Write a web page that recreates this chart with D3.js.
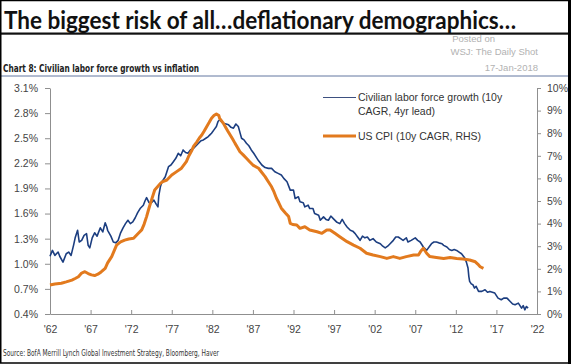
<!DOCTYPE html>
<html>
<head>
<meta charset="utf-8">
<script src="https://cdn.jsdelivr.net/npm/d3@7"></script>
<style>
  body { margin: 0; background: #fff; }
  svg { display: block; }
</style>
</head>
<body>
<svg id="chart"></svg>
<script>
// labour force growth, 10y CAGR with 4yr lead (left axis, %)
const laborYears = [1962.0,1962.3,1962.6,1963.0,1963.2,1963.6,1964.0,1964.3,1964.6,1964.9,1965.1,1965.4,1965.6,1965.9,1966.2,1966.5,1966.7,1966.9,1967.2,1967.5,1967.8,1968.2,1968.5,1968.8,1969.0,1969.1,1969.5,1969.8,1970.1,1970.4,1970.7,1971.0,1971.3,1971.6,1971.9,1972.2,1972.5,1972.8,1973.1,1973.5,1973.7,1973.9,1974.2,1974.5,1974.8,1975.1,1975.3,1975.4,1975.6,1975.8,1976.2,1976.4,1976.6,1976.9,1977.2,1977.5,1977.8,1978.1,1978.4,1978.7,1979.0,1979.3,1979.7,1980.0,1980.3,1980.6,1980.9,1981.2,1981.5,1981.7,1981.9,1982.2,1982.5,1982.7,1982.9,1983.3,1983.7,1984.0,1984.3,1984.6,1984.9,1985.2,1985.4,1985.6,1985.9,1986.2,1986.5,1986.8,1987.1,1987.5,1987.7,1988.1,1988.5,1988.9,1989.3,1989.7,1990.1,1990.5,1990.8,1991.2,1991.6,1992.0,1992.2,1992.6,1992.8,1993.2,1993.4,1993.8,1994.0,1994.4,1994.6,1995.1,1995.3,1995.7,1996.0,1996.3,1996.6,1996.9,1997.3,1997.7,1998.0,1998.3,1998.6,1999.0,1999.3,1999.6,1999.9,2000.2,2000.5,2000.8,2001.1,2001.4,2001.8,2002.2,2002.7,2003.0,2003.3,2003.6,2003.9,2004.3,2004.6,2004.9,2005.2,2005.5,2005.9,2006.1,2006.5,2007.0,2007.3,2007.6,2008.0,2008.4,2008.7,2009.0,2009.3,2009.6,2009.9,2010.3,2010.5,2010.9,2011.2,2011.5,2011.8,2012.1,2012.4,2012.7,2013.1,2013.3,2013.5,2013.6,2013.7,2013.9,2014.1,2014.3,2014.5,2014.8,2015.2,2015.6,2015.9,2016.2,2016.5,2016.8,2017.2,2017.6,2017.9,2018.3,2018.7,2019.0,2019.3,2019.7,2020.1,2020.3,2020.5,2020.7,2020.9]
const laborGrowth = [1.09,1.16,1.10,1.14,1.09,1.02,1.12,1.14,1.10,1.22,1.31,1.40,1.26,1.28,1.34,1.36,1.22,1.19,1.31,1.37,1.33,1.43,1.38,1.49,1.44,1.40,1.33,1.26,1.25,1.28,1.37,1.43,1.48,1.52,1.48,1.50,1.55,1.61,1.66,1.70,1.75,1.79,1.73,1.73,1.76,1.71,1.68,1.81,1.92,1.98,2.04,2.10,2.16,2.18,2.22,2.26,2.32,2.29,2.36,2.33,2.32,2.36,2.38,2.41,2.44,2.47,2.48,2.50,2.52,2.54,2.56,2.60,2.64,2.70,2.72,2.68,2.67,2.66,2.63,2.62,2.67,2.64,2.57,2.50,2.48,2.44,2.41,2.36,2.32,2.26,2.23,2.18,2.15,2.14,2.14,2.10,2.08,2.06,2.02,1.98,1.88,1.88,1.78,1.80,1.74,1.73,1.68,1.70,1.66,1.66,1.60,1.58,1.52,1.56,1.53,1.52,1.57,1.54,1.50,1.48,1.53,1.48,1.44,1.40,1.39,1.36,1.32,1.28,1.33,1.31,1.32,1.28,1.30,1.26,1.24,1.21,1.19,1.21,1.24,1.28,1.32,1.32,1.30,1.28,1.31,1.26,1.28,1.31,1.28,1.26,1.20,1.16,1.20,1.24,1.26,1.26,1.25,1.24,1.22,1.20,1.17,1.16,1.17,1.16,1.14,1.12,1.07,1.02,0.95,0.85,0.79,0.76,0.75,0.71,0.73,0.67,0.67,0.69,0.66,0.67,0.66,0.65,0.59,0.57,0.59,0.59,0.55,0.52,0.51,0.53,0.47,0.50,0.45,0.49,0.47]

// US CPI, 10y CAGR (right axis, %)
const cpiYears = [1962.0,1962.6,1963.4,1964.0,1964.7,1965.1,1965.5,1965.9,1966.3,1966.7,1967.1,1967.5,1967.9,1968.3,1968.8,1969.1,1969.6,1969.9,1970.2,1970.7,1971.2,1971.7,1972.3,1972.8,1973.3,1973.6,1973.9,1974.2,1974.5,1974.9,1975.6,1975.9,1976.4,1977.0,1977.6,1978.2,1978.8,1979.1,1979.5,1979.7,1980.1,1980.4,1980.7,1981.0,1981.3,1981.6,1981.9,1982.2,1982.5,1982.8,1982.9,1983.3,1983.6,1983.9,1984.2,1984.5,1984.8,1985.1,1985.4,1985.8,1986.2,1986.6,1987.0,1987.7,1988.1,1988.5,1988.9,1989.3,1989.6,1989.9,1990.2,1990.5,1991.0,1991.4,1991.6,1991.9,1992.4,1992.8,1993.4,1994.0,1994.9,1995.5,1996.1,1996.5,1997.1,1997.7,1998.6,1999.4,2000.2,2001.0,2001.8,2002.7,2003.5,2004.3,2005.1,2005.9,2006.8,2007.4,2007.7,2008.0,2008.4,2008.8,2009.6,2010.5,2011.3,2012.1,2012.9,2013.7,2014.4,2014.7,2015.0,2015.4]
const cpiValues = [1.28,1.33,1.36,1.42,1.50,1.57,1.65,1.81,1.87,1.79,1.73,1.70,1.76,1.86,2.02,2.26,2.54,2.79,3.05,3.19,3.27,3.32,3.35,3.54,3.72,3.98,4.31,4.69,5.04,5.49,5.78,5.86,5.93,6.15,6.30,6.45,6.74,6.99,7.26,7.43,7.62,7.79,7.92,8.10,8.29,8.47,8.66,8.78,8.85,8.78,8.66,8.47,8.29,8.10,7.92,7.74,7.55,7.37,7.18,7.04,6.89,6.74,6.59,6.45,6.26,6.08,5.85,5.63,5.40,5.12,4.91,4.68,4.47,4.31,4.01,3.96,3.94,3.79,3.86,3.72,3.64,3.57,3.72,3.72,3.57,3.42,3.20,3.05,2.91,2.69,2.61,2.54,2.46,2.54,2.46,2.54,2.61,2.61,2.79,2.91,2.69,2.54,2.50,2.46,2.50,2.46,2.43,2.39,2.31,2.21,2.09,2.02]

const leftTicks = [0.4,0.7,1.0,1.3,1.6,1.9,2.2,2.5,2.8,3.1]
const rightTicks = [0,1,2,3,4,5,6,7,8,9,10]
const yearTicks = [1962,1967,1972,1977,1982,1987,1992,1997,2002,2007,2012,2017,2022]

const W = 571, H = 364
const plot = {left: 50, right: 537, top: 88, bottom: 314}
const blue = "#1c3e80"
const orange = "#e27a1e"
const axisGrey = "#8f8f8f"
const labelFont = "'Liberation Sans', Arial, sans-serif"

const svg = d3.select("#chart").attr("width", W).attr("height", H)

// header
svg.append("text")
  .attr("x", 4).attr("y", 29)
  .attr("textLength", 512).attr("lengthAdjust", "spacingAndGlyphs")
  .style("font-family", "Lato, 'Open Sans', sans-serif")
  .style("font-weight", 700).style("font-size", "24px").style("fill", "#111")
  .text("The biggest risk of all…deflationary demographics…")

const stamp = [["Posted on", 42, 495], ["WSJ: The Daily Shot", 55, 538], ["17-Jan-2018", 70.5, 538]]
stamp.forEach(([t, y, x]) => {
  svg.append("text")
    .attr("x", x).attr("y", y)
    .attr("text-anchor", "end")
    .style("font-family", labelFont).style("font-size", "9.5px").style("fill", "#b2b2b2")
    .text(t)
})

svg.append("rect")
  .attr("x", 0).attr("y", 32.5).attr("width", W).attr("height", 2.2)
  .style("fill", "#111")

svg.append("text")
  .attr("x", 3).attr("y", 72)
  .attr("textLength", 196).attr("lengthAdjust", "spacingAndGlyphs")
  .style("font-family", "'Liberation Sans Narrow', 'DejaVu Sans Condensed', Arial, sans-serif")
  .style("font-weight", 700).style("font-size", "10.5px").style("fill", "#222")
  .text("Chart 8: Civilian labor force growth vs inflation")

svg.append("line")
  .attr("x1", 0).attr("x2", W).attr("y1", 76).attr("y2", 76)
  .style("stroke", "#6276a0").style("stroke-width", 1)

// scales
const x = d3.scaleLinear().domain([1962, 2022]).range([plot.left, plot.right])
const yLeft = d3.scaleLinear().domain([0.4, 3.1]).range([plot.bottom, plot.top])
const yRight = d3.scaleLinear().domain([0, 10]).range([plot.bottom, plot.top])

// axes
const styleAxis = g => {
  g.select(".domain").style("stroke", axisGrey)
  g.selectAll(".tick line").style("stroke", axisGrey)
  g.selectAll(".tick text")
    .style("font-family", labelFont).style("font-size", "10.5px").style("fill", "#444")
}

svg.append("g")
  .attr("transform", `translate(${plot.left},0)`)
  .call(d3.axisLeft(yLeft).tickValues(leftTicks).tickSizeInner(5).tickSizeOuter(0).tickPadding(7)
    .tickFormat(d => d.toFixed(1) + "%"))
  .call(styleAxis)

svg.append("g")
  .attr("transform", `translate(${plot.right},0)`)
  .call(d3.axisRight(yRight).tickValues(rightTicks).tickSizeInner(4).tickSizeOuter(0).tickPadding(6)
    .tickFormat(d => d + "%"))
  .call(styleAxis)

svg.append("g")
  .attr("transform", `translate(0,${plot.bottom})`)
  .call(d3.axisBottom(x).tickValues(yearTicks).tickSizeInner(-4).tickSizeOuter(0).tickPadding(12)
    .tickFormat(d => "'" + String(d).slice(2)))
  .call(styleAxis)

// lines
const laborData = laborYears.map((yr, i) => [yr, laborGrowth[i]])
const cpiData = cpiYears.map((yr, i) => [yr, cpiValues[i]])

svg.append("path")
  .datum(laborData)
  .attr("fill", "none")
  .attr("stroke", blue)
  .attr("stroke-width", 1.6)
  .attr("stroke-linejoin", "round")
  .attr("d", d3.line().x(d => x(d[0])).y(d => yLeft(d[1])))

svg.append("path")
  .datum(cpiData)
  .attr("fill", "none")
  .attr("stroke", orange)
  .attr("stroke-width", 3)
  .attr("stroke-linejoin", "round")
  .attr("d", d3.line().x(d => x(d[0])).y(d => yRight(d[1])))

// legend
const legend = svg.append("g").style("font-family", labelFont).style("font-size", "10.5px").style("fill", "#333")
legend.append("line").attr("x1", 323).attr("x2", 356).attr("y1", 97.5).attr("y2", 97.5)
  .style("stroke", "#3d5080").style("stroke-width", 1.2)
legend.append("text").attr("x", 358).attr("y", 101).text("Civilian labor force growth (10y")
legend.append("text").attr("x", 358).attr("y", 115).text("CAGR, 4yr lead)")
legend.append("line").attr("x1", 323).attr("x2", 356).attr("y1", 136).attr("y2", 136)
  .style("stroke", orange).style("stroke-width", 3)
legend.append("text").attr("x", 358).attr("y", 140).text("US CPI (10y CAGR, RHS)")

// source
svg.append("text")
  .attr("x", 3).attr("y", 356)
  .attr("textLength", 216).attr("lengthAdjust", "spacingAndGlyphs")
  .style("font-family", "'Liberation Sans Narrow', 'DejaVu Sans Condensed', Arial, sans-serif")
  .style("font-size", "8.5px").style("fill", "#333")
  .text("Source: BofA Merrill Lynch Global Investment Strategy, Bloomberg, Haver")

// frame
svg.append("rect")
  .attr("x", 0.75).attr("y", 0.5).attr("width", W - 2.5).attr("height", H - 1.5)
  .style("fill", "none").style("stroke", "#000").style("stroke-width", 1.5)
svg.append("line")
  .attr("x1", W - 1.5).attr("x2", W - 1.5).attr("y1", 0).attr("y2", H)
  .style("stroke", "#000").style("stroke-width", 3)
</script>
</body>
</html>
